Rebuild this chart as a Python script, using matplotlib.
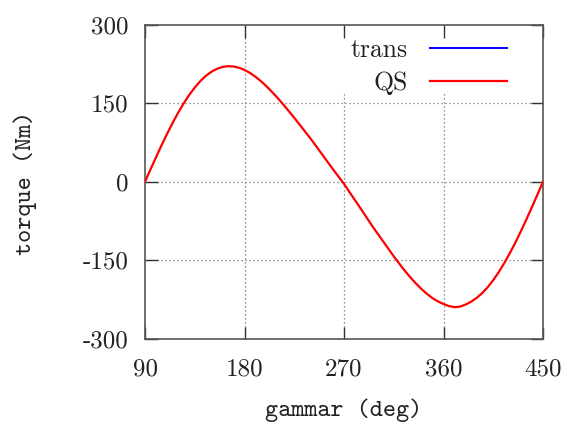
import matplotlib
matplotlib.use("Agg")
import matplotlib.pyplot as plt

# ---- data ----
gamma = [90, 95, 100, 105, 110, 115, 120, 125, 130, 135, 140, 145, 150, 155, 160,
         165, 170, 175, 180, 185, 190, 195, 200, 205, 210, 215, 220, 225, 230, 235,
         240, 245, 250, 255, 260, 265, 270, 275, 280, 285, 290, 295, 300, 305, 310,
         315, 320, 325, 330, 335, 340, 345, 350, 355, 360, 365, 370, 375, 380, 385,
         390, 395, 400, 405, 410, 415, 420, 425, 430, 435, 440, 445, 450]
torque_qs = [0, 23.7, 47.1, 69.9, 91.8, 112.6, 132.1, 150.1, 166.2, 180.3, 192.5,
             202.6, 210.4, 216.1, 219.7, 221.2, 220.6, 218.2, 214.0, 208.2, 200.8,
             192.2, 182.5, 171.7, 160.2, 148.0, 135.3, 122.3, 109.0, 95.5, 81.9,
             67.5, 53.0, 38.5, 24.0, 10.0, -4.0, -20.0, -35.5, -51.0, -67.0, -83.0,
             -98.0, -112.8, -127.9, -142.7, -156.7, -170.3, -182.9, -194.6, -205.2,
             -214.6, -222.6, -229.1, -234.0, -238.0, -240.0, -239.0, -235.0, -229.6,
             -222.3, -213.1, -201.7, -188.3, -172.9, -155.6, -136.7, -116.4, -94.7,
             -72.0, -48.4, -24.4, 0]

series_labels = ["trans", "QS"]
series_colors = ["#0000ff", "#ff0000"]
xticks = [90, 180, 270, 360, 450]
xtick_labels = ["90", "180", "270", "360", "450"]
yticks = [-300, -150, 0, 150, 300]
ytick_labels = ["-300", "-150", "0", "150", "300"]
xlabel = "gammar (deg)"
ylabel = "torque (Nm)"

W, H = 571, 424
fig = plt.figure(figsize=(W / 100, H / 100), dpi=100)
L, R, T, B = 145, 543, 25, 338.5
ax = fig.add_axes([L / W, (H - B) / H, (R - L) / W, (B - T) / H])

FS = 18
rm = "cmr10"
tt = "cmtt10"

# grid (drawn manually so the legend area stays clear)
gcol = "0.45"
gls = (0, (1, 2.2))
for xv in xticks[1:-1]:
    top = 1.0 if xv < 250 else 0.786
    ax.axvline(xv, ymin=0, ymax=top, color=gcol, ls=gls, lw=0.9, zorder=1)
for yv in yticks[1:-1]:
    ax.axhline(yv, color=gcol, ls=gls, lw=0.9, zorder=1)

# the "trans" curve lies exactly beneath the QS curve in the reference
l2, = ax.plot(gamma, torque_qs, color=series_colors[1], lw=1.6,
              label=series_labels[1], zorder=4)
l1 = plt.Line2D([], [], color=series_colors[0], lw=1.4, label=series_labels[0])

ax.set_xlim(90, 450)
ax.set_ylim(-300, 300)
ax.set_xticks(xticks)
ax.set_xticklabels(xtick_labels, fontfamily=rm, fontsize=FS, color="#222222")
ax.set_yticks(yticks)
ax.set_yticklabels(ytick_labels, fontfamily=rm, fontsize=FS, color="#222222")
ax.tick_params(direction="in", length=9, width=1, top=True, right=True, color="#333333")
ax.tick_params(axis="x", pad=14)
ax.tick_params(axis="y", pad=12)
for s in ax.spines.values():
    s.set_color("#555555")
    s.set_linewidth(1.2)

fig.text((L + R) / 2 / W, 1 - 410 / H, xlabel, fontfamily=tt, fontsize=FS,
         ha="center", va="center", color="#222222")
fig.text(25 / W, 1 - 183 / H, ylabel, fontfamily=tt, fontsize=FS, rotation=90,
         ha="center", va="center", color="#222222")

leg = ax.legend(handles=[l1, l2], loc="upper right",
                bbox_to_anchor=((507 - L) / (R - L), (B - 38) / (B - T)),
                frameon=False, markerfirst=False, borderpad=0, borderaxespad=0,
                handlelength=3.0, handletextpad=0.85, labelspacing=0.38,
                prop={"family": rm, "size": 18.5})
for t in leg.get_texts():
    t.set_color("#222222")

fig.savefig("out.png", dpi=100)
